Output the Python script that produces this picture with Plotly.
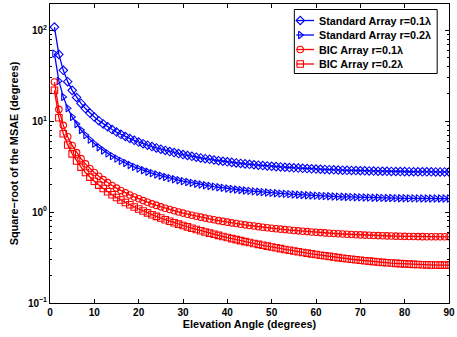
import plotly.graph_objects as go

angles = list(range(1, 91))

std_r01 = [108.7, 54.40, 36.31, 27.27, 21.86, 18.26, 15.70, 13.78, 12.30, 11.11,
           10.15, 9.346, 8.672, 8.099, 7.604, 7.173, 6.796, 6.462, 6.167, 5.903,
           5.666, 5.452, 5.258, 5.083, 4.922, 4.775, 4.641, 4.517, 4.403, 4.298,
           4.200, 4.110, 4.026, 3.947, 3.875, 3.806, 3.743, 3.683, 3.628, 3.575,
           3.526, 3.480, 3.437, 3.395, 3.357, 3.321, 3.287, 3.254, 3.224, 3.194,
           3.167, 3.141, 3.117, 3.094, 3.072, 3.051, 3.031, 3.012, 2.995, 2.978,
           2.962, 2.948, 2.934, 2.920, 2.907, 2.895, 2.884, 2.873, 2.863, 2.854,
           2.846, 2.838, 2.829, 2.822, 2.816, 2.809, 2.804, 2.799, 2.794, 2.790,
           2.786, 2.782, 2.779, 2.777, 2.775, 2.773, 2.771, 2.770, 2.770, 2.769]

std_r02 = [55.50, 27.77, 18.53, 13.92, 11.16, 9.322, 8.013, 7.034, 6.275, 5.670,
           5.179, 4.769, 4.425, 4.133, 3.880, 3.660, 3.467, 3.297, 3.146, 3.011,
           2.890, 2.781, 2.682, 2.592, 2.510, 2.435, 2.367, 2.303, 2.245, 2.191,
           2.142, 2.095, 2.052, 2.012, 1.975, 1.940, 1.908, 1.877, 1.849, 1.822,
           1.797, 1.773, 1.751, 1.730, 1.711, 1.692, 1.675, 1.658, 1.642, 1.627,
           1.613, 1.600, 1.588, 1.576, 1.565, 1.554, 1.544, 1.534, 1.525, 1.517,
           1.509, 1.501, 1.494, 1.487, 1.480, 1.474, 1.469, 1.463, 1.458, 1.453,
           1.449, 1.445, 1.441, 1.437, 1.434, 1.430, 1.428, 1.425, 1.423, 1.420,
           1.418, 1.417, 1.415, 1.414, 1.413, 1.412, 1.411, 1.410, 1.410, 1.410]

bic_r01 = [27.00, 13.50, 9.007, 6.759, 5.411, 4.515, 3.874, 3.395, 3.022, 2.725,
           2.482, 2.280, 2.110, 1.964, 1.838, 1.728, 1.631, 1.545, 1.469, 1.401,
           1.339, 1.283, 1.232, 1.186, 1.143, 1.104, 1.068, 1.035, 1.004, 0.9757,
           0.9492, 0.9244, 0.9013, 0.8798, 0.8596, 0.8405, 0.8228, 0.8060, 0.7903, 0.7754,
           0.7614, 0.7481, 0.7357, 0.7239, 0.7127, 0.7022, 0.6922, 0.6826, 0.6737, 0.6651,
           0.6570, 0.6492, 0.6420, 0.6350, 0.6283, 0.6221, 0.6162, 0.6104, 0.6051, 0.5999,
           0.5951, 0.5906, 0.5863, 0.5821, 0.5781, 0.5745, 0.5710, 0.5676, 0.5645, 0.5615,
           0.5589, 0.5563, 0.5537, 0.5515, 0.5495, 0.5475, 0.5457, 0.5441, 0.5426, 0.5412,
           0.5400, 0.5389, 0.5379, 0.5370, 0.5365, 0.5358, 0.5354, 0.5350, 0.5350, 0.5348]

bic_r02 = [21.89, 10.94, 7.296, 5.471, 4.375, 3.645, 3.123, 2.731, 2.427, 2.182,
           1.983, 1.816, 1.675, 1.555, 1.450, 1.358, 1.277, 1.204, 1.140, 1.082,
           1.029, 0.9810, 0.9372, 0.8970, 0.8600, 0.8257, 0.7940, 0.7645, 0.7370, 0.7113,
           0.6873, 0.6648, 0.6436, 0.6236, 0.6048, 0.5869, 0.5702, 0.5542, 0.5392, 0.5247,
           0.5111, 0.4980, 0.4857, 0.4738, 0.4626, 0.4519, 0.4416, 0.4317, 0.4224, 0.4133,
           0.4047, 0.3964, 0.3885, 0.3809, 0.3735, 0.3666, 0.3600, 0.3534, 0.3474, 0.3415,
           0.3359, 0.3306, 0.3256, 0.3205, 0.3157, 0.3113, 0.3071, 0.3030, 0.2992, 0.2955,
           0.2922, 0.2889, 0.2856, 0.2828, 0.2802, 0.2777, 0.2752, 0.2731, 0.2712, 0.2693,
           0.2677, 0.2663, 0.2649, 0.2638, 0.2630, 0.2621, 0.2615, 0.2610, 0.2608, 0.2608]

series_names = ["Standard Array r=0.1λ", "Standard Array r=0.2λ",
                "BIC Array r=0.1λ", "BIC Array r=0.2λ"]
series_values = [std_r01, std_r02, bic_r01, bic_r02]
series_colors = ["#0000FF", "#0000FF", "#FF0000", "#FF0000"]
series_symbols = ["diamond-open", "triangle-right-open", "circle-open", "square-open"]

x_ticks = [0, 10, 20, 30, 40, 50, 60, 70, 80, 90]
y_ticks = [0.1, 1, 10, 100]
y_ticktext = ["10<sup>−1</sup>", "10<sup>0</sup>", "10<sup>1</sup>", "10<sup>2</sup>"]
y_minor_ticks = [0.2, 0.3, 0.4, 0.5, 0.6, 0.7, 0.8, 0.9,
                 2, 3, 4, 5, 6, 7, 8, 9,
                 20, 30, 40, 50, 60, 70, 80, 90, 200]

# figure geometry (pixels)
W, H = 457, 337
ML, MR, MT, MB = 50, 2, 4, 34
PX0, PX1 = ML, W - MR
PY0, PY1 = MT, H - MB
FONT = "Liberation Sans, Arial, sans-serif"

fig = go.Figure()
for name, vals, col, sym in zip(series_names, series_values, series_colors, series_symbols):
    fig.add_trace(go.Scatter(
        x=angles, y=vals, name=name, mode="lines+markers",
        line=dict(color=col, width=1.3),
        marker=dict(symbol=sym, size=6.5, color=col, line=dict(width=1.1, color=col)),
        showlegend=False, hoverinfo="skip",
    ))

# dummy trace to activate minor-tick overlay axis
fig.add_trace(go.Scatter(x=[45], y=[1], yaxis="y2", mode="markers",
                         marker=dict(opacity=0), showlegend=False, hoverinfo="skip"))

# manual legend drawn in pixel coordinates (overlay axes x3/y3)
LEG_X0, LEG_X1, LEG_Y0, LEG_Y1 = 298, 443, 9.5, 73.5
leg_rows = [20.5, 35, 49.5, 64]
fig.add_trace(go.Scatter(
    x=[LEG_X0, LEG_X1, LEG_X1, LEG_X0, LEG_X0], y=[LEG_Y0, LEG_Y0, LEG_Y1, LEG_Y1, LEG_Y0],
    xaxis="x3", yaxis="y3", mode="lines", fill="toself", fillcolor="white",
    line=dict(color="black", width=1), showlegend=False, hoverinfo="skip"))
for name, col, sym, ry in zip(series_names, series_colors, series_symbols, leg_rows):
    fig.add_trace(go.Scatter(x=[300, 318], y=[ry, ry], xaxis="x3", yaxis="y3", mode="lines",
                             line=dict(color=col, width=1.3), showlegend=False, hoverinfo="skip"))
    fig.add_trace(go.Scatter(x=[304], y=[ry], xaxis="x3", yaxis="y3", mode="markers",
                             marker=dict(symbol=sym, size=6.5, color=col, line=dict(width=1.1, color=col)),
                             showlegend=False, hoverinfo="skip"))
    fig.add_annotation(x=321, y=ry, xref="x3", yref="y3", text="<b>" + name + "</b>",
                       showarrow=False, xanchor="left", yanchor="middle",
                       font=dict(family=FONT, size=10.8, color="black"))

fig.update_layout(
    width=W, height=H,
    margin=dict(l=ML, r=MR, t=MT, b=MB),
    plot_bgcolor="white", paper_bgcolor="white",
    font=dict(family=FONT, size=10, color="black"),
    showlegend=False,
    xaxis=dict(
        range=[0, 90], tickvals=x_ticks, ticktext=["<b>%d</b>" % v for v in x_ticks],
        ticks="inside", ticklen=4, tickcolor="black",
        showline=True, linecolor="black", linewidth=1, mirror="ticks",
        showgrid=False, zeroline=False, ticklabeloverflow="allow",
        tickfont=dict(family=FONT, size=10),
        title=dict(text="<b>Elevation Angle (degrees)</b>", font=dict(family=FONT, size=10.9), standoff=3),
    ),
    yaxis=dict(
        type="log", range=[-1, 2.29], tickvals=y_ticks, ticktext=["<b>" + t + "</b>" for t in y_ticktext],
        ticks="inside", ticklen=4, tickcolor="black",
        showline=True, linecolor="black", linewidth=1, mirror="ticks",
        showgrid=False, zeroline=False,
        tickfont=dict(family=FONT, size=10),
        title=dict(text="<b>Square−root of the MSAE (degrees)</b>", font=dict(family=FONT, size=10.9), standoff=7),
    ),
    yaxis2=dict(
        type="log", range=[-1, 2.29], overlaying="y", side="left", anchor="x",
        tickvals=y_minor_ticks, showticklabels=False,
        ticks="inside", ticklen=2, tickcolor="black", mirror="ticks",
        showline=False, showgrid=False, zeroline=False,
    ),
    xaxis3=dict(range=[PX0, PX1], overlaying="x", anchor="y3", visible=False, fixedrange=True),
    yaxis3=dict(range=[PY1, PY0], overlaying="y", anchor="x3", visible=False, fixedrange=True),
)

fig.write_html("out.html")
